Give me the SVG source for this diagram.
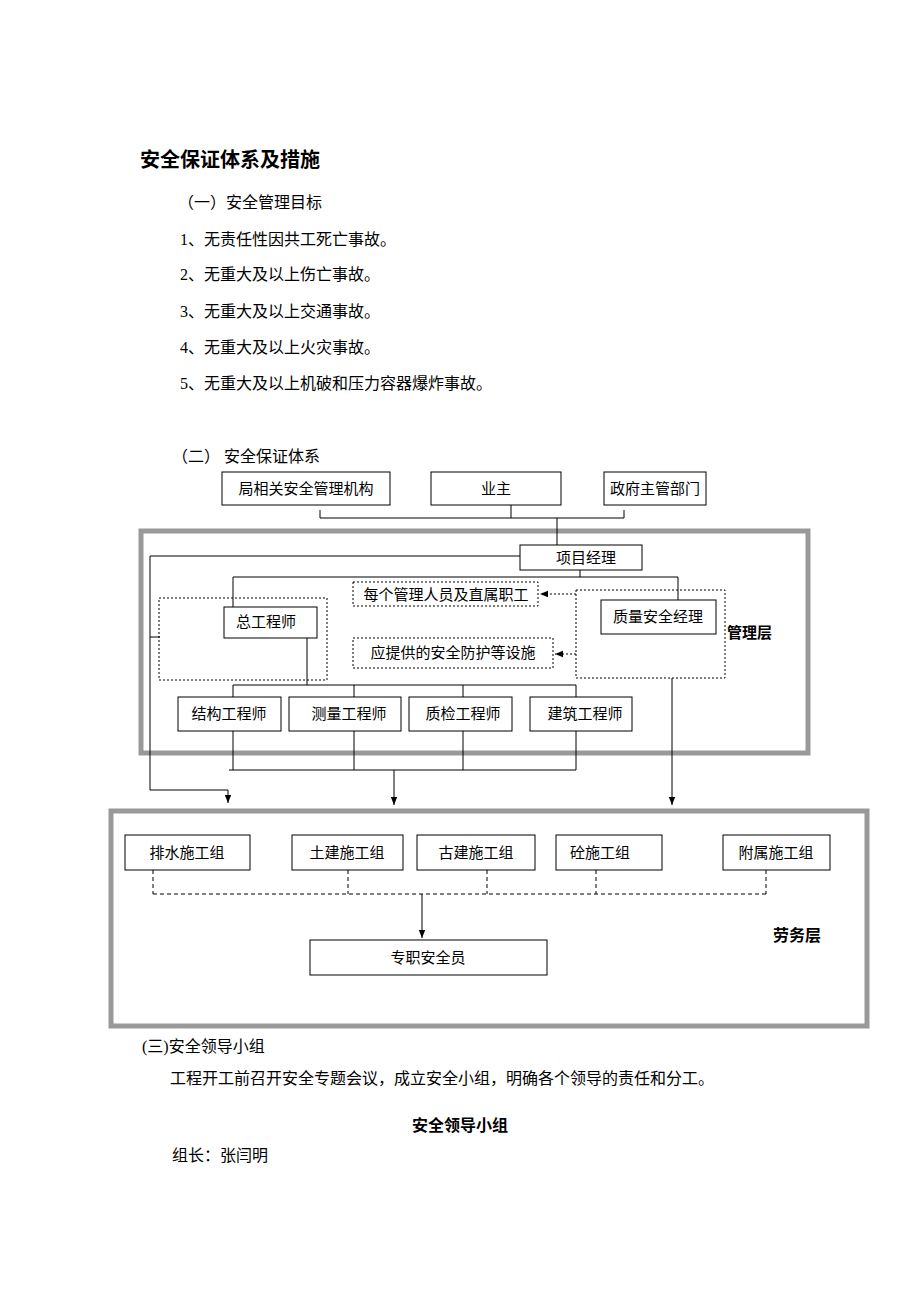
<svg xmlns="http://www.w3.org/2000/svg" width="920" height="1302" viewBox="0 0 920 1302">
<style>
text{font-family:"Liberation Serif","Noto Sans CJK SC",serif;fill:#000}
.t{font-size:16px}
.n{font-size:15px;text-anchor:middle}
.b{font-weight:bold;font-family:"Liberation Sans","Noto Sans CJK SC",sans-serif}
.box{fill:#fff;stroke:#000;stroke-width:1}
.dot{fill:none;stroke:#000;stroke-width:1;stroke-dasharray:2,2}
.ln{fill:none;stroke:#000;stroke-width:1}
.gray{fill:none;stroke:#999;stroke-width:5}
</style>
<defs>
<marker id="a" viewBox="0 0 10 10" refX="10" refY="5" markerWidth="8" markerHeight="8" orient="auto"><path d="M0,1 L10,5 L0,9 z" fill="#000"/></marker>
</defs>
<rect width="920" height="1302" fill="#fff"/>
<text x="140" y="167" class="b" font-size="20">安全保证体系及措施</text>
<text x="178" y="208" class="t">（一）安全管理目标</text>
<text x="180" y="245" class="t">1、无责任性因共工死亡事故。</text>
<text x="180" y="280" class="t">2、无重大及以上伤亡事故。</text>
<text x="180" y="317" class="t">3、无重大及以上交通事故。</text>
<text x="180" y="353" class="t">4、无重大及以上火灾事故。</text>
<text x="180" y="389" class="t">5、无重大及以上机破和压力容器爆炸事故。</text>
<text x="172" y="462" class="t">（二）  安全保证体系</text>
<rect class="gray" x="141" y="531" width="667" height="222"/>
<rect class="gray" x="111" y="811" width="756" height="215"/>
<g id="connectors">
<path class="ln" d="M320,510V518H624V510M511,505V518M557,518V545"/>
<path class="ln" d="M520,556H150V790H228"/>
<path class="ln" d="M228,790V803" marker-end="url(#a)"/>
<path class="ln" d="M150,637H160"/>
<path class="ln" d="M580,570V577M233,577H678M233,577V607M678,577V600"/>
<path class="ln" d="M307,638V685M233,685H576M233,685V697M354,685V697M463,685V697M576,685V697"/>
<path class="ln" d="M233,731V770M354,731V770M463,731V770M576,731V770M229,770H576"/>
<path class="ln" d="M394,770V805" marker-end="url(#a)"/>
<path class="ln" d="M672,678V805" marker-end="url(#a)"/>
<path class="dot" d="M576,594H540" marker-end="url(#a)"/>
<path class="dot" d="M576,654H555" marker-end="url(#a)"/>
<path class="ln" stroke-dasharray="4,3" d="M153,870V894M348,870V894M487,870V894M596,870V894M766,870V894M153,894H766"/>
<path class="ln" d="M422,894V938" marker-end="url(#a)"/>
</g>
<g id="n1"><rect class="box" x="222" y="472" width="168" height="33"/><text class="n" x="306" y="494">局相关安全管理机构</text></g>
<g id="n2"><rect class="box" x="431" y="472" width="130" height="33"/><text class="n" x="496" y="494">业主</text></g>
<g id="n3"><rect class="box" x="604" y="472" width="102" height="33"/><text class="n" x="655" y="494">政府主管部门</text></g>
<g id="n4"><rect class="box" x="520" y="545" width="122" height="25"/><text class="n" x="586" y="563">项目经理</text></g>
<g id="n5"><rect class="dot" x="159" y="598" width="168" height="82"/><rect class="box" x="224" y="607" width="93" height="31"/><text class="n" x="266" y="627">总工程师</text></g>
<g id="n6"><rect class="dot" x="353" y="582" width="185" height="24"/><text class="n" x="446" y="600">每个管理人员及直属职工</text></g>
<g id="n7"><rect class="dot" x="353" y="638" width="200" height="30"/><text class="n" x="453" y="658">应提供的安全防护等设施</text></g>
<g id="n8"><rect class="dot" x="576" y="590" width="149" height="88"/><rect class="box" x="601" y="600" width="115" height="34"/><text class="n" x="658" y="622">质量安全经理</text></g>
<text x="727" y="638" class="b" font-size="15">管理层</text>
<g id="n9"><rect class="box" x="178" y="697" width="103" height="34"/><text class="n" x="229" y="719">结构工程师</text></g>
<g id="n10"><rect class="box" x="289" y="697" width="112" height="34"/><text class="n" x="349" y="719">测量工程师</text></g>
<g id="n11"><rect class="box" x="409" y="697" width="103" height="34"/><text class="n" x="463" y="719">质检工程师</text></g>
<g id="n12"><rect class="box" x="530" y="697" width="102" height="34" stroke-width="1.6"/><text class="n" x="585" y="719">建筑工程师</text></g>
<g id="n13"><rect class="box" x="125" y="835" width="125" height="35"/><text class="n" x="187" y="858">排水施工组</text></g>
<g id="n14"><rect class="box" x="292" y="835" width="111" height="35"/><text class="n" x="347" y="858">土建施工组</text></g>
<g id="n15"><rect class="box" x="417" y="835" width="118" height="35"/><text class="n" x="476" y="858">古建施工组</text></g>
<g id="n16"><rect class="box" x="556" y="835" width="106" height="35"/><text class="n" x="600" y="858">砼施工组</text></g>
<g id="n17"><rect class="box" x="723" y="835" width="107" height="35"/><text class="n" x="776" y="858">附属施工组</text></g>
<g id="n18"><rect class="box" x="310" y="940" width="237" height="35"/><text class="n" x="428" y="963">专职安全员</text></g>
<text x="773" y="941" class="b" font-size="16">劳务层</text>
<text x="142" y="1052" class="t">(三)安全领导小组</text>
<text x="170" y="1084" class="t">工程开工前召开安全专题会议，成立安全小组，明确各个领导的责任和分工。</text>
<text x="460" y="1131" class="b" font-size="16" text-anchor="middle">安全领导小组</text>
<text x="172" y="1161" class="t">组长：张闫明</text>
</svg>
